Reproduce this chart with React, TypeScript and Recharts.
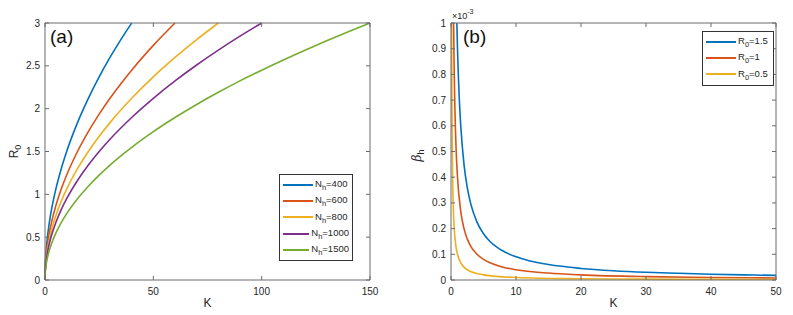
import React from 'react';
import { LineChart, Line, XAxis, YAxis, Legend, Label } from 'recharts';

// panel (a): R0 against K, one list per N_h as [K, R0]
const nh400 = [[0, 0], [0.1, 0.15], [0.25, 0.24], [0.5, 0.335], [1, 0.474], [2, 0.671], [3, 0.822], [5, 1.061], [7.5, 1.299], [10, 1.5], [15, 1.837], [20, 2.121], [25, 2.372], [30, 2.598], [35, 2.806], [40, 3]];
const nh600 = [[0, 0], [0.1, 0.12], [0.25, 0.19], [0.5, 0.274], [1, 0.387], [2, 0.548], [3, 0.671], [5, 0.866], [7.5, 1.061], [10, 1.225], [15, 1.5], [20, 1.732], [25, 1.936], [30, 2.121], [40, 2.449], [50, 2.739], [60, 3]];
const nh800 = [[0, 0], [0.1, 0.106], [0.25, 0.168], [0.5, 0.237], [1, 0.335], [2, 0.474], [3, 0.581], [5, 0.75], [7.5, 0.919], [10, 1.061], [15, 1.299], [20, 1.5], [25, 1.677], [30, 1.837], [40, 2.121], [50, 2.372], [60, 2.598], [70, 2.806], [80, 3]];
const nh1000 = [[0, 0], [0.1, 0.095], [0.25, 0.15], [0.5, 0.212], [1, 0.3], [2, 0.424], [3, 0.52], [5, 0.671], [7.5, 0.822], [10, 0.949], [15, 1.162], [20, 1.342], [25, 1.5], [30, 1.643], [40, 1.897], [50, 2.121], [60, 2.324], [70, 2.51], [80, 2.683], [90, 2.846], [100, 3]];
const nh1500 = [[0, 0], [0.1, 0.077], [0.25, 0.122], [0.5, 0.173], [1, 0.245], [2, 0.346], [3, 0.424], [5, 0.548], [7.5, 0.671], [10, 0.775], [15, 0.949], [20, 1.095], [25, 1.225], [30, 1.342], [40, 1.549], [50, 1.732], [60, 1.897], [70, 2.049], [80, 2.191], [90, 2.324], [100, 2.449], [110, 2.569], [120, 2.683], [130, 2.793], [140, 2.898], [150, 3]];

// panel (b): beta_h (x 1e-3) against K, [K, beta]
const r15 = [[0.9, 1], [1, 0.9], [1.25, 0.72], [1.5, 0.6], [2, 0.45], [2.5, 0.36], [3, 0.3], [4, 0.225], [5, 0.18], [6, 0.15], [7, 0.129], [8, 0.113], [10, 0.09], [12, 0.075], [15, 0.06], [20, 0.045], [25, 0.036], [30, 0.03], [35, 0.026], [40, 0.0225], [45, 0.02], [50, 0.018]];
const r10 = [[0.4, 1], [0.5, 0.8], [0.6, 0.667], [0.8, 0.5], [1, 0.4], [1.5, 0.267], [2, 0.2], [2.5, 0.16], [3, 0.133], [4, 0.1], [5, 0.08], [6, 0.067], [8, 0.05], [10, 0.04], [15, 0.027], [20, 0.02], [30, 0.013], [40, 0.01], [50, 0.008]];
const r05 = [[0.1, 1], [0.125, 0.8], [0.15, 0.667], [0.2, 0.5], [0.3, 0.333], [0.4, 0.25], [0.5, 0.2], [0.75, 0.133], [1, 0.1], [1.5, 0.067], [2, 0.05], [3, 0.033], [4, 0.025], [5, 0.02], [7, 0.014], [10, 0.01], [20, 0.005], [30, 0.0033], [50, 0.002]];

const kTicksA = [0, 50, 100, 150];
const rTicksA = [0, 0.5, 1, 1.5, 2, 2.5, 3];
const kTicksB = [0, 10, 20, 30, 40, 50];
const bTicksB = [0, 0.1, 0.2, 0.3, 0.4, 0.5, 0.6, 0.7, 0.8, 0.9, 1];

const seriesA = [
  { name: '400', pts: nh400, color: '#0072BD' },
  { name: '600', pts: nh600, color: '#D95319' },
  { name: '800', pts: nh800, color: '#EDB120' },
  { name: '1000', pts: nh1000, color: '#7E2F8E' },
  { name: '1500', pts: nh1500, color: '#77AC30' },
];
const seriesB = [
  { name: '1.5', pts: r15, color: '#0072BD' },
  { name: '1', pts: r10, color: '#D95319' },
  { name: '0.5', pts: r05, color: '#EDB120' },
];

const FONT = '"Liberation Sans", Arial, sans-serif';
const AXIS = '#6b6b6b';
const TXT = '#262626';
const TL = 4;

const toRows = (pts: number[][]) => pts.map(([k, v]) => ({ k, v }));

const BottomTick = (p: any) => (
  <g>
    <line x1={p.x} y1={p.y} x2={p.x} y2={p.y - TL} stroke={AXIS} />
    <text x={p.x} y={p.y + 15} textAnchor="middle" fontSize={10} fill={TXT} fontFamily={FONT}>
      {p.payload.value}
    </text>
  </g>
);
const TopTick = (p: any) => <line x1={p.x} y1={p.y} x2={p.x} y2={p.y + TL} stroke={AXIS} />;
const LeftTick = (p: any) => (
  <g>
    <line x1={p.x} y1={p.y} x2={p.x + TL} y2={p.y} stroke={AXIS} />
    <text x={p.x - 5} y={p.y + 3.5} textAnchor="end" fontSize={10} fill={TXT} fontFamily={FONT}>
      {p.payload.value}
    </text>
  </g>
);
const RightTick = (p: any) => <line x1={p.x} y1={p.y} x2={p.x - TL} y2={p.y} stroke={AXIS} />;

const makeLegend = (prefix: string, sub: string, order: string[]) => (props: any) => {
  const items = [...props.payload]
    .filter((e: any) => order.includes(e.value))
    .sort((a: any, b: any) => order.indexOf(a.value) - order.indexOf(b.value));
  return (
    <div
      style={{
        border: '1px solid #333',
        background: '#fff',
        padding: '2px 3px',
        fontFamily: FONT,
        fontSize: 9.5,
        color: TXT,
      }}
    >
      {items.map((e: any) => (
        <div key={e.value} style={{ display: 'flex', alignItems: 'center', height: 16.2 }}>
          <div style={{ width: 30, height: 2, background: e.color, marginRight: 2 }} />
          <span>
            {prefix}
            <sub style={{ fontSize: 7.5 }}>{sub}</sub>={e.value}
          </span>
        </div>
      ))}
    </div>
  );
};

const PanelTag = (tag: string, dx: number) => (p: any) => (
  <text x={p.viewBox.x + dx} y={p.viewBox.y + 21} fontSize={19} fill="#111" fontFamily={FONT}>
    {tag}
  </text>
);

export default function App() {
  return (
    <div style={{ position: 'absolute', left: 0, top: 0, width: 793, height: 315, background: '#fff' }}>
      <div style={{ position: 'absolute', left: 0, top: 0 }}>
        <LineChart width={400} height={315} margin={{ top: 22, right: 29, bottom: 0, left: 0 }}>
          <XAxis
            dataKey="k"
            type="number"
            domain={[0, 150]}
            ticks={kTicksA}
            interval={0}
            height={35}
            tickSize={0}
            tickMargin={0}
            tick={BottomTick}
            tickLine={false}
            axisLine={{ stroke: AXIS }}
            allowDuplicatedCategory={false}
          >
            <Label value="K" position="insideBottom" offset={8} fontSize={12} fill={TXT} fontFamily={FONT} />
          </XAxis>
          <XAxis
            xAxisId="t"
            orientation="top"
            dataKey="k"
            type="number"
            domain={[0, 150]}
            ticks={kTicksA}
            interval={0}
            height={1}
            tickSize={0}
            tickMargin={0}
            tick={TopTick}
            tickLine={false}
            axisLine={{ stroke: AXIS }}
            allowDuplicatedCategory={false}
          >
            <Label content={PanelTag('(a)', 5)} />
          </XAxis>
          <YAxis
            type="number"
            domain={[0, 3]}
            ticks={rTicksA}
            interval={0}
            width={45}
            tickSize={0}
            tickMargin={0}
            tick={LeftTick}
            tickLine={false}
            axisLine={{ stroke: AXIS }}
          >
            <Label
              content={(p: any) => (
                <text
                  x={p.viewBox.x + 18}
                  y={p.viewBox.y + p.viewBox.height / 2}
                  transform={`rotate(-90 ${p.viewBox.x + 18} ${p.viewBox.y + p.viewBox.height / 2})`}
                  textAnchor="middle"
                  fontSize={12}
                  fill={TXT}
                  fontFamily={FONT}
                >
                  R<tspan fontSize={9} dy={3}>0</tspan>
                </text>
              )}
            />
          </YAxis>
          <YAxis
            yAxisId="r"
            orientation="right"
            type="number"
            domain={[0, 3]}
            ticks={rTicksA}
            interval={0}
            width={1}
            tickSize={0}
            tickMargin={0}
            tick={RightTick}
            tickLine={false}
            axisLine={{ stroke: AXIS }}
          />
          {seriesA.map(s => (
            <Line
              key={s.name}
              data={toRows(s.pts)}
              dataKey="v"
              name={s.name}
              type="monotone"
              stroke={s.color}
              strokeWidth={1.6}
              dot={false}
              isAnimationActive={false}
            />
          ))}
          {/* invisible copy so the top and right frame axes have a series bound to them */}
          <Line
            xAxisId="t"
            yAxisId="r"
            data={toRows(nh1500)}
            dataKey="v"
            name="frame"
            stroke="none"
            legendType="none"
            dot={false}
            activeDot={false}
            isAnimationActive={false}
          />
          <Legend
            layout="vertical"
            align="center"
            verticalAlign="middle"
            content={makeLegend('N', 'h', seriesA.map(s => s.name))}
            wrapperStyle={{ left: 279, top: 174, width: 74, bottom: 'auto', right: 'auto' }}
          />
        </LineChart>
      </div>

      <div style={{ position: 'absolute', left: 400, top: 0 }}>
        <LineChart width={393} height={315} margin={{ top: 22, right: 16, bottom: 0, left: 0 }}>
          <XAxis
            dataKey="k"
            type="number"
            domain={[0, 50]}
            ticks={kTicksB}
            interval={0}
            height={35}
            tickSize={0}
            tickMargin={0}
            tick={BottomTick}
            tickLine={false}
            axisLine={{ stroke: AXIS }}
            allowDuplicatedCategory={false}
          >
            <Label value="K" position="insideBottom" offset={8} fontSize={12} fill={TXT} fontFamily={FONT} />
          </XAxis>
          <XAxis
            xAxisId="t"
            orientation="top"
            dataKey="k"
            type="number"
            domain={[0, 50]}
            ticks={kTicksB}
            interval={0}
            height={1}
            tickSize={0}
            tickMargin={0}
            tick={TopTick}
            tickLine={false}
            axisLine={{ stroke: AXIS }}
            allowDuplicatedCategory={false}
          >
            <Label content={PanelTag('(b)', 12)} />
          </XAxis>
          <YAxis
            type="number"
            domain={[0, 1]}
            ticks={bTicksB}
            interval={0}
            width={51}
            tickSize={0}
            tickMargin={0}
            tick={LeftTick}
            tickLine={false}
            axisLine={{ stroke: AXIS }}
            allowDataOverflow
          >
            <Label
              content={(p: any) => {
                const cx = p.viewBox.x + 21;
                const cy = p.viewBox.y + p.viewBox.height / 2 + 4;
                const ex = p.viewBox.x + p.viewBox.width + 1;
                const ey = p.viewBox.y - 4;
                return (
                  <g>
                    <text
                      x={cx}
                      y={cy}
                      transform={`rotate(-90 ${cx} ${cy})`}
                      textAnchor="middle"
                      fontSize={12}
                      fill={TXT}
                      fontFamily={FONT}
                    >
                      <tspan fontStyle="italic" fontFamily="DejaVu Serif, serif">β</tspan>
                      <tspan fontSize={9} dy={3}>h</tspan>
                    </text>
                    <text x={ex} y={ey} fontSize={9} fill={TXT} fontFamily={FONT}>
                      ×10<tspan fontSize={7} dy={-5}>-3</tspan>
                    </text>
                  </g>
                );
              }}
            />
          </YAxis>
          <YAxis
            yAxisId="r"
            orientation="right"
            type="number"
            domain={[0, 1]}
            ticks={bTicksB}
            interval={0}
            width={1}
            tickSize={0}
            tickMargin={0}
            tick={RightTick}
            tickLine={false}
            axisLine={{ stroke: AXIS }}
            allowDataOverflow
          />
          {seriesB.map(s => (
            <Line
              key={s.name}
              data={toRows(s.pts)}
              dataKey="v"
              name={s.name}
              type="monotone"
              stroke={s.color}
              strokeWidth={1.6}
              dot={false}
              isAnimationActive={false}
            />
          ))}
          {/* invisible copy so the top and right frame axes have a series bound to them */}
          <Line
            xAxisId="t"
            yAxisId="r"
            data={toRows(r15)}
            dataKey="v"
            name="frame"
            stroke="none"
            legendType="none"
            dot={false}
            activeDot={false}
            isAnimationActive={false}
          />
          <Legend
            layout="vertical"
            align="center"
            verticalAlign="middle"
            content={makeLegend('R', '0', seriesB.map(s => s.name))}
            wrapperStyle={{ left: 302, top: 31, width: 72, bottom: 'auto', right: 'auto' }}
          />
        </LineChart>
      </div>
    </div>
  );
}
